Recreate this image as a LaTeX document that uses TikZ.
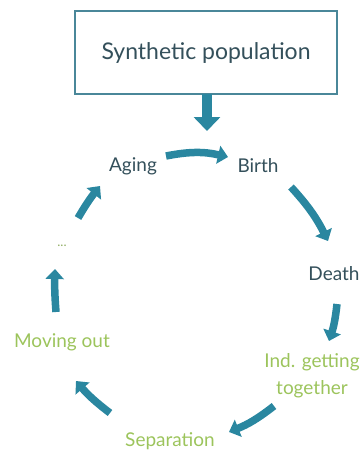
\documentclass[tikz,border=0pt]{standalone}
\usepackage{fontspec}
\setmainfont{Lato}
\usetikzlibrary{arrows.meta}
\definecolor{teal1}{HTML}{2A87A0}
\definecolor{boxc}{HTML}{4A8799}
\definecolor{txt}{HTML}{34505B}
\definecolor{grn}{HTML}{9CC45C}
\tikzset{
  lbl/.style={font=\fontsize{19}{23}\selectfont, text=txt, inner sep=0pt},
  glbl/.style={font=\fontsize{19}{23}\selectfont, text=grn, inner sep=0pt, align=center},
  fat/.style={draw=teal1, line width=7.5pt, -{Triangle[width=18pt,length=10pt]}},
}
\begin{document}
\begin{tikzpicture}[x=1pt,y=-1pt]
\useasboundingbox (0,0) rectangle (362,453);
\node[draw=boxc, line width=1.8pt, fill=white, minimum width=262pt, minimum height=83pt, inner sep=0pt,
  font=\fontsize{23}{26}\selectfont, text=txt] (top) at (206,52.5) {Synthetic population};
\coordinate (d0) at (207,94);
\coordinate (d1) at (207,131);
\draw[draw=teal1, line width=10pt, -{Triangle[width=26pt,length=14pt]}] (d0) -- (d1);

\node[lbl] (aging) at (133,166) {Aging};
\node[lbl] (birth) at (258,166) {Birth};
\node[lbl] (death) at (334,274) {Death};
\node[glbl] (ind) at (312,376) {Ind. getting\\[4pt]together};
\node[glbl] (sep) at (170,441) {Separation};
\node[glbl] (mov) at (62,342) {Moving out};
\node[font=\fontsize{13}{15}\selectfont, text=grn!70!gray, inner sep=0pt] (dots) at (62,246) {...};

\coordinate (a1) at (166,156);
\coordinate (a2) at (228,157);
\coordinate (b1) at (291,187);
\coordinate (b2) at (328,241);
\coordinate (c1) at (337,304);
\coordinate (c2) at (329,341);
\coordinate (e1) at (274,406);
\coordinate (e2) at (229,432);
\coordinate (f1) at (110,413);
\coordinate (f2) at (76,381);
\coordinate (g1) at (56,312);
\coordinate (g2) at (55,269);
\coordinate (h1) at (78,218);
\coordinate (h2) at (100,186);

\draw[fat] (a1) to[bend left=12] (a2);
\draw[fat] (b1) to[bend left=8] (b2);
\draw[fat] (c1) to[bend left=6] (c2);
\draw[fat] (e1) to[bend left=8] (e2);
\draw[fat] (f1) to[bend left=6] (f2);
\draw[fat] (g1) to[bend left=3] (g2);
\draw[fat] (h1) to[bend left=4] (h2);
\end{tikzpicture}
\end{document}
